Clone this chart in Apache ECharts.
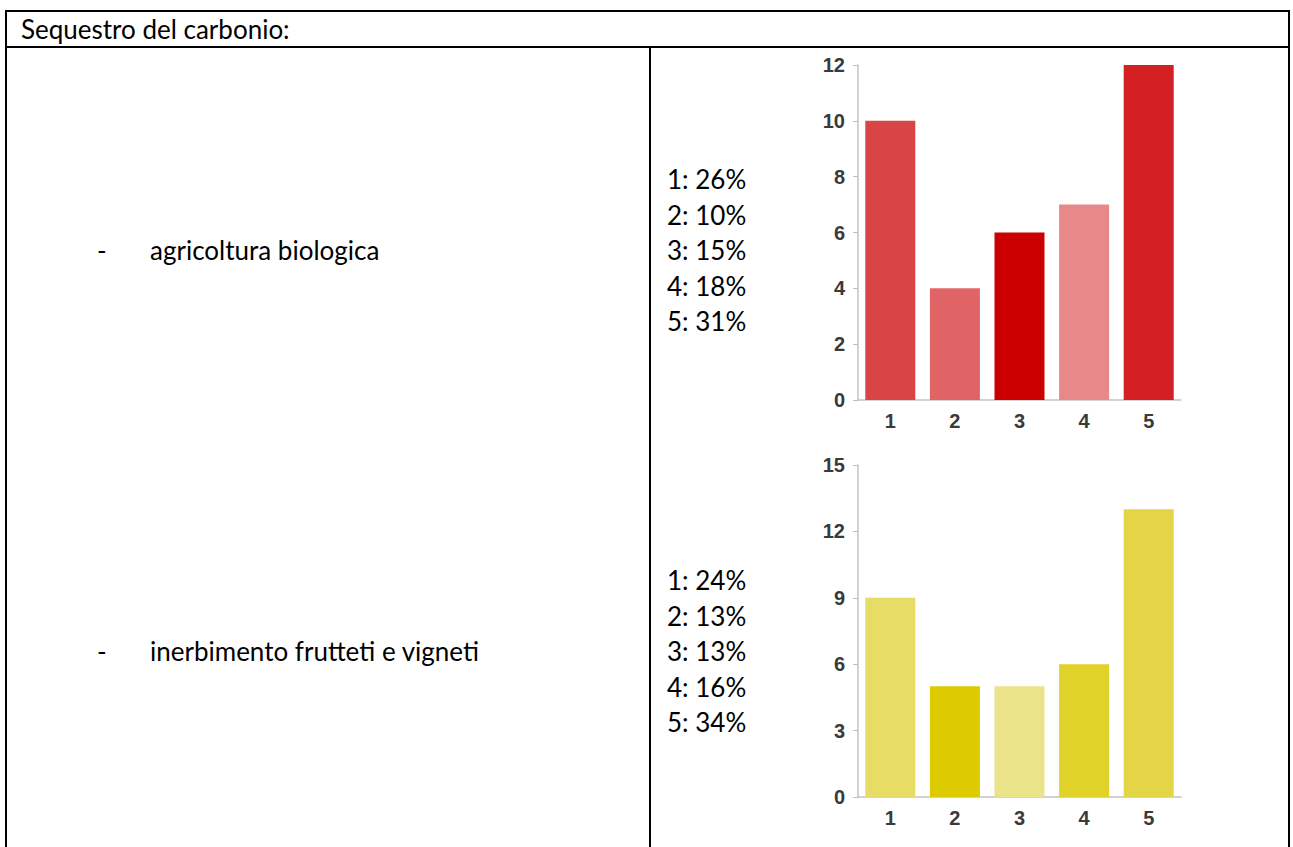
<!DOCTYPE html>
<html>
<head>
<meta charset="utf-8">
<script src="https://cdn.jsdelivr.net/npm/echarts@6/dist/echarts.min.js"></script>
<style>
html,body{margin:0;padding:0;background:#fff;}
#main{width:1293px;height:847px;}
</style>
</head>
<body>
<div id="main"></div>
<script>
// ---- data ----
var title = 'Sequestro del carbonio:';
var items = ['agricoltura biologica', 'inerbimento frutteti e vigneti'];
var categories = ['1', '2', '3', '4', '5'];
var values1 = [10, 4, 6, 7, 12];
var values2 = [9, 5, 5, 6, 13];
var pct1 = ['26%', '10%', '15%', '18%', '31%'];
var pct2 = ['24%', '13%', '13%', '16%', '34%'];
var yTicks1 = { max: 12, interval: 2 };
var yTicks2 = { max: 15, interval: 3 };

// ---- styles ----
var colors1 = ['#d94446', '#e06466', '#cc0000', '#e88888', '#d42022'];
var colors2 = ['#e6dc66', '#dccb00', '#ebe38a', '#e0d228', '#e3d545'];
var textFont = 'Lato, "Open Sans", sans-serif';
var axisFont = '"Liberation Sans", Arial, sans-serif';

var chart = echarts.init(document.getElementById('main'), null, { renderer: 'svg' });

function lineEl(x1, y1, x2, y2) {
  return { type: 'line', shape: { x1: x1, y1: y1, x2: x2, y2: y2 },
           style: { stroke: '#000', lineWidth: 2 }, silent: true };
}
function textEl(str, x, y) {
  return { type: 'text', x: x, y: y,
           style: { text: str, fill: '#000', font: '26px ' + textFont, verticalAlign: 'middle', align: 'left' },
           silent: true };
}

var graphics = [
  lineEl(6, 11, 1290, 11),
  lineEl(6, 47, 1290, 47),
  lineEl(6, 10, 6, 847),
  lineEl(1289, 10, 1289, 847),
  lineEl(650, 47, 650, 847),
  textEl(title, 21, 29),
  textEl('-', 97, 250), textEl(items[0], 150, 250),
  textEl('-', 97, 651), textEl(items[1], 150, 651)
];
var listTop = [179, 580];
var pcts = [pct1, pct2];
for (var k = 0; k < 2; k++) {
  for (var i = 0; i < categories.length; i++) {
    graphics.push(textEl(categories[i] + ': ' + pcts[k][i], 667, listTop[k] + i * 35.6));
  }
}

function xAxis(idx) {
  return {
    type: 'category', gridIndex: idx, data: categories,
    axisLine: { lineStyle: { color: '#c4c4c4', width: 1.5 } },
    axisTick: { alignWithLabel: true, length: 4, lineStyle: { color: '#bdbdbd' } },
    axisLabel: { color: '#3a3a3a', fontFamily: axisFont, fontWeight: 'bold', fontSize: 20, margin: 11 }
  };
}
function yAxis(idx, t) {
  return {
    type: 'value', gridIndex: idx, min: 0, max: t.max, interval: t.interval,
    splitLine: { show: false },
    axisLine: { show: true, lineStyle: { color: '#c4c4c4', width: 1.5 } },
    axisTick: { show: true, length: 5, lineStyle: { color: '#bdbdbd' } },
    axisLabel: { color: '#3a3a3a', fontFamily: axisFont, fontWeight: 'bold', fontSize: 20, margin: 13 }
  };
}
function barData(vals, cols) {
  return vals.map(function (v, i) { return { value: v, itemStyle: { color: cols[i] } }; });
}

chart.setOption({
  animation: false,
  graphic: graphics,
  grid: [
    { left: 858, top: 65, width: 323, height: 335 },
    { left: 858, top: 465, width: 323, height: 332 }
  ],
  xAxis: [xAxis(0), xAxis(1)],
  yAxis: [yAxis(0, yTicks1), yAxis(1, yTicks2)],
  series: [
    { type: 'bar', xAxisIndex: 0, yAxisIndex: 0, barWidth: 50, data: barData(values1, colors1) },
    { type: 'bar', xAxisIndex: 1, yAxisIndex: 1, barWidth: 50, data: barData(values2, colors2) }
  ]
});
</script>
</body>
</html>
